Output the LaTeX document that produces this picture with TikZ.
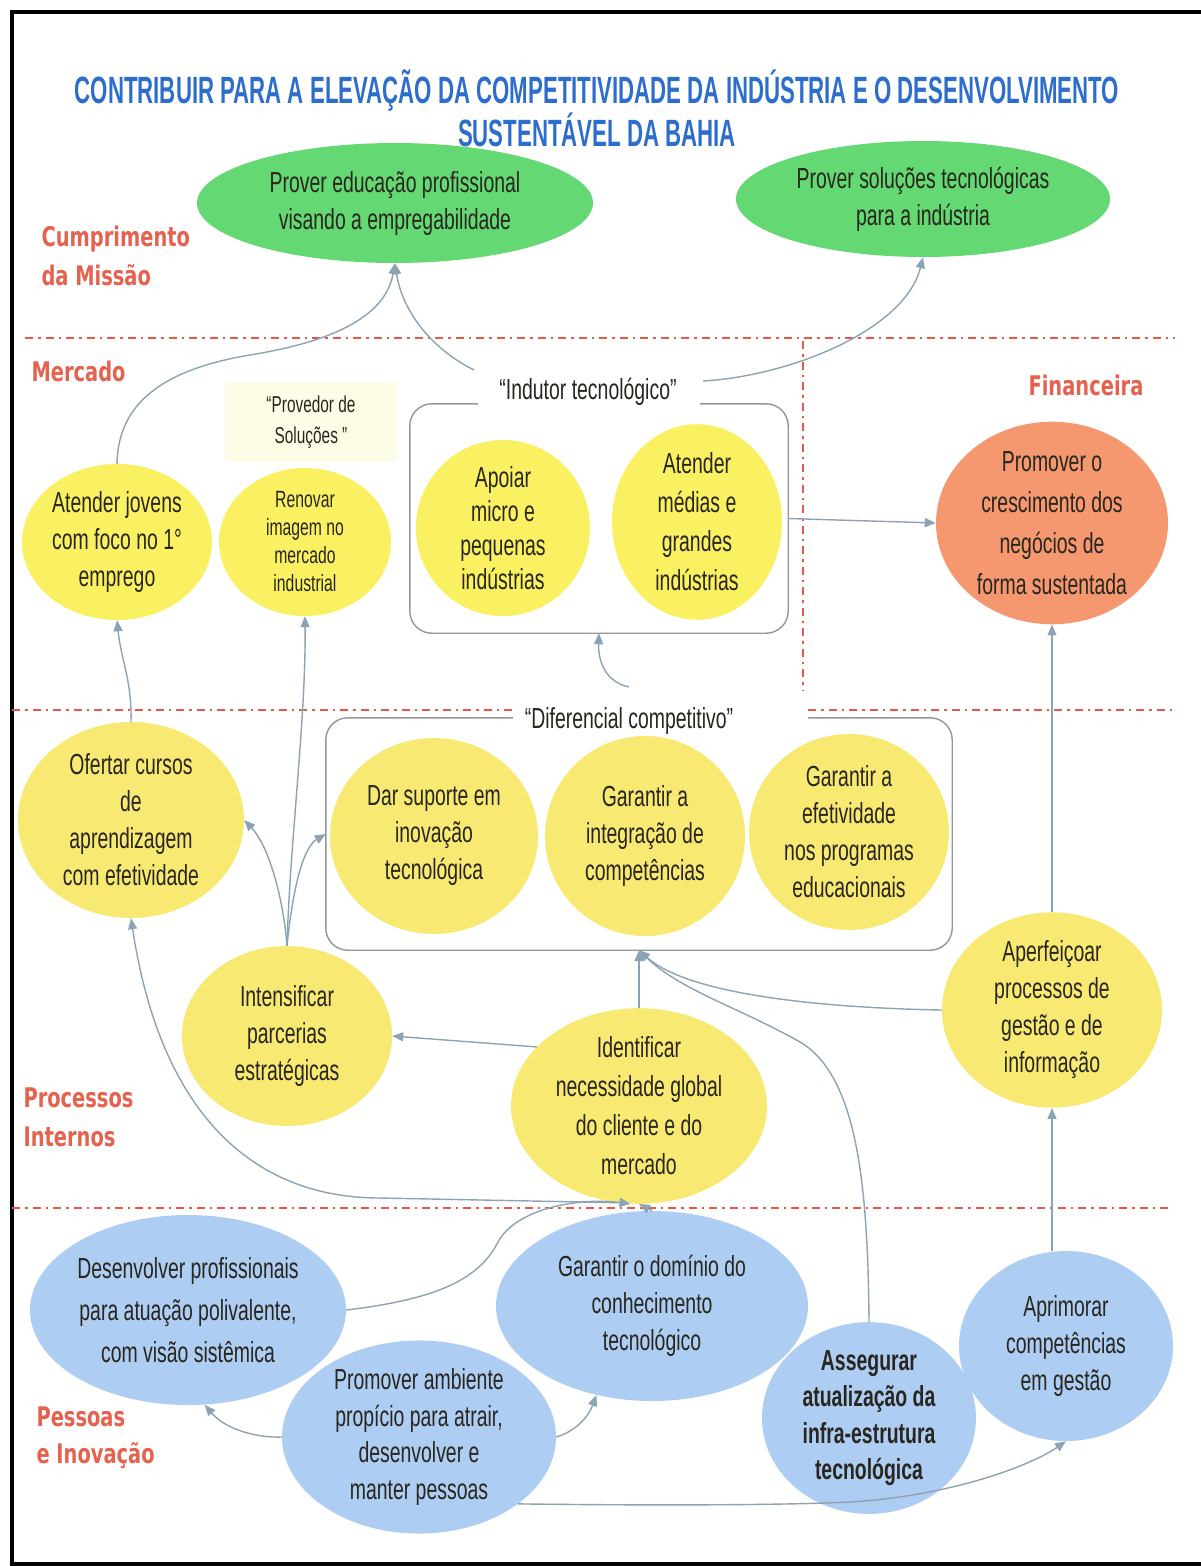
\documentclass[tikz,border=0pt]{standalone}
\usepackage{fontspec}
\setmainfont[FakeStretch=0.67]{Liberation Sans}
\newfontfamily\titlefont[FakeStretch=0.585]{Liberation Sans}
\newfontfamily\seclabfont[FakeStretch=0.72]{DejaVu Sans}
\usetikzlibrary{shapes.geometric,arrows.meta}

\definecolor{mgreen}{RGB}{100,216,114}
\definecolor{yelA}{RGB}{250,241,98}
\definecolor{yelB}{RGB}{248,233,115}
\definecolor{salmon}{RGB}{245,152,112}
\definecolor{lblue}{RGB}{174,205,242}
\definecolor{provbg}{RGB}{253,252,230}
\definecolor{redl}{RGB}{232,88,72}
\definecolor{titleblue}{RGB}{45,110,205}
\definecolor{seclab}{RGB}{228,98,78}
\definecolor{connc}{RGB}{140,163,182}
\definecolor{boxgray}{RGB}{150,150,150}
\definecolor{txt}{RGB}{40,38,30}

\newcommand\ellfont{\fontsize{29}{37}\selectfont}

\begin{document}
\begin{tikzpicture}[x=1pt,y=-1pt,
  obj/.style={ellipse, inner sep=0pt, align=center, text=txt, font=\ellfont},
  goal/.style={obj, fill=mgreen},
  yA/.style={obj, fill=yelA},
  yB/.style={obj, fill=yelB},
  fin/.style={obj, fill=salmon},
  pin/.style={obj, fill=lblue},
  seclabel/.style={anchor=west, align=left, text=seclab,
    font=\seclabfont\bfseries\fontsize{27}{39}\selectfont},
  divider/.style={draw=redl, line width=2.6pt,
    dash pattern=on 8pt off 5pt on 2.5pt off 5pt},
  boxline/.style={draw=boxgray, line width=1.4pt, rounded corners=22pt},
  arrowline/.style={draw=connc, line width=1.4pt,
    -{Triangle[length=11pt,width=9pt]}}
]
\useasboundingbox[fill=white] (0,0) rectangle (1201,1566);

% frame
\draw[line width=4.5pt] (1201,12) -- (12,12) -- (12,1564) -- (1201,1564);

% title
\node[font=\titlefont\bfseries\fontsize{38}{43}\selectfont, text=titleblue, align=center]
  (title) at (597,108)
  {CONTRIBUIR PARA A ELEVAÇÃO DA COMPETITIVIDADE DA INDÚSTRIA E O DESENVOLVIMENTO\\SUSTENTÁVEL DA BAHIA};

% perspective dividers
\draw[divider] (25,338) -- (1175,338);
\draw[divider] (12,710) -- (512,710);
\draw[divider] (808,710) -- (1172,710);
\draw[divider] (12,1208) -- (1172,1208);
\draw[divider, line width=1.6pt] (803,341) -- (803,690);

% perspective names
\node[seclabel] (lmis) at (38,256) {Cumprimento\\da Missão};
\node[seclabel] (lmer) at (28,371) {Mercado};
\node[seclabel] (lfin) at (1025,385) {Financeira};
\node[seclabel] (lpro) at (20,1117) {Processos\\Internos};
\node[seclabel, font=\seclabfont\bfseries\fontsize{27}{37}\selectfont] (lpes) at (33,1438) {Pessoas\\e Inovação};

% mission
\node[goal, minimum width=396, minimum height=120] (m1) at (395,203)
  {Prover educação profissional\\visando a empregabilidade};
\node[goal, minimum width=374, minimum height=116] (m2) at (923,199)
  {Prover soluções tecnológicas\\para a indústria};

% market
\node[fill=provbg, minimum width=172, minimum height=80, align=center, text=txt,
  font=\fontsize{23}{31}\selectfont] (prov) at (311,422) {“Provedor de\\Soluções ”};
\node[yA, minimum width=190, minimum height=156] (jov) at (117,542)
  {Atender jovens\\com foco no 1°\\emprego};
\node[yA, minimum width=172, minimum height=148, font=\fontsize{23.5}{28}\selectfont] (ren) at (305,542)
  {Renovar\\imagem no\\mercado\\industrial};

\node[minimum width=378, minimum height=229, inner sep=0pt] (indbox) at (599,518.5) {};
\draw[boxline] ([xshift=68pt]indbox.north west) -- (indbox.north west) -- (indbox.south west)
  -- (indbox.south east) -- (indbox.north east) -- ([xshift=-88pt]indbox.north east);
\node[text=txt, font=\ellfont] (indlab) at (588,392) {“Indutor tecnológico”};
\node[yA, minimum width=174, minimum height=176, font=\fontsize{29}{34}\selectfont] (apo) at (503,528)
  {Apoiar\\micro e\\pequenas\\indústrias};
\node[yA, minimum width=170, minimum height=184, font=\fontsize{29}{39}\selectfont] (med) at (697,522)
  {Atender\\médias e\\grandes\\indústrias};

% financial
\node[fin, minimum width=232, minimum height=190, font=\fontsize{29}{41}\selectfont] (fin) at (1052,523)
  {Promover o\\crescimento dos\\negócios de\\forma sustentada};

% internal processes
\node[minimum width=626, minimum height=232, inner sep=0pt] (difbox) at (639,834) {};
\draw[boxline] ([xshift=187pt]difbox.north west) -- (difbox.north west) -- (difbox.south west)
  -- (difbox.south east) -- (difbox.north east) -- ([xshift=-144pt]difbox.north east);
\node[text=txt, font=\ellfont] (diflab) at (629,721) {“Diferencial competitivo”};

\node[yB, minimum width=226, minimum height=196] (ofe) at (131,820)
  {Ofertar cursos\\de\\aprendizagem\\com efetividade};
\node[yB, minimum width=208, minimum height=196] (dar) at (434,836)
  {Dar suporte em\\inovação\\tecnológica};
\node[yB, minimum width=200, minimum height=200] (gic) at (645,836)
  {Garantir a\\integração de\\competências};
\node[yB, minimum width=200, minimum height=196] (gep) at (849,832)
  {Garantir a\\efetividade\\nos programas\\educacionais};
\node[yB, minimum width=210, minimum height=180] (int) at (287,1036)
  {Intensificar\\parcerias\\estratégicas};
\node[yB, minimum width=256, minimum height=188, font=\fontsize{29}{39}\selectfont] (idn) at (639,1106)
  {Identificar\\necessidade global\\do cliente e do\\mercado};
\node[yB, minimum width=220, minimum height=192] (ape) at (1052,1010)
  {Aperfeiçoar\\processos de\\gestão e de\\informação};

% people and innovation
\node[pin, minimum width=316, minimum height=190, font=\fontsize{29}{42}\selectfont] (des) at (188,1310)
  {Desenvolver profissionais\\para atuação polivalente,\\com visão sistêmica};
\node[pin, minimum width=312, minimum height=190] (gdc) at (652,1306)
  {Garantir o domínio do\\conhecimento\\tecnológico};
\node[pin, minimum width=214, minimum height=190] (apr) at (1066,1346)
  {Aprimorar\\competências\\em gestão};
\node[pin, minimum width=214, minimum height=176, font=\bfseries\fontsize{29}{36.5}\selectfont] (ass) at (869,1418)
  {Assegurar\\atualização da\\infra-estrutura\\tecnológica};
\node[pin, minimum width=274, minimum height=160, font=\fontsize{29}{36.5}\selectfont] (pam) at (419,1437)
  {Promover ambiente\\propício para atrair,\\desenvolver e\\manter pessoas};

% loose ends of connectors
\coordinate (indL) at (474,370);
\coordinate (indR) at (703,381);
\coordinate (difS) at (629,687);
\coordinate (tipD) at (idn.north |- difbox.south);

% cause-effect links
\draw[arrowline] (jov.north) .. controls (118,405) and (160,370) .. (250,355)
  .. controls (330,342) and (385,318) .. (m1.south);
\draw[arrowline] (indL) .. controls (430,348) and (402,310) .. (m1.south);
\draw[arrowline] (indR) .. controls (790,376) and (905,330) .. (m2.south);
\draw[arrowline] (indbox.east) -- (fin.west);
\draw[arrowline] (ofe.north) .. controls (132,680) and (121,660) .. (jov.south);
\draw[arrowline] (int.north) .. controls (290,840) and (306,720) .. (ren.south);
\draw[arrowline] (int.north) .. controls (283,895) and (268,845) .. (ofe.east);
\draw[arrowline] (int.north) .. controls (292,895) and (302,848) .. (difbox.west);
\draw[arrowline] (idn.150) -- (int.east);
\draw[arrowline] (idn.north) -- (tipD);
\draw[arrowline] (ape.west) .. controls (830,1008) and (690,996) .. (tipD);
\draw[arrowline] (ass.north) .. controls (868,1180) and (856,1075) .. (800,1042)
  .. controls (740,1008) and (680,990) .. (tipD);
\draw[arrowline] (difS) .. controls (606,682) and (598,662) .. (indbox.south);
\draw[arrowline] (ape.north) -- (fin.south);
\draw[arrowline] (ape.south |- apr.north) -- (ape.south);
\draw[arrowline] (des.east) .. controls (430,1300) and (478,1282) .. (498,1242)
  .. controls (515,1210) and (575,1197) .. (idn.265);
\draw[arrowline] (idn.258) -- (380,1198) .. controls (250,1198) and (160,1110) .. (ofe.south);
\draw[arrowline] (gdc.north) -- (idn.south);
\draw[arrowline] (pam.west) .. controls (258,1438) and (226,1430) .. (des.280);
\draw[arrowline] (pam.east) .. controls (574,1432) and (588,1418) .. (gdc.238);
\draw[arrowline] (pam.-34) .. controls (600,1505) and (770,1506) .. (850,1502)
  .. controls (950,1496) and (1030,1466) .. (apr.south);
\end{tikzpicture}
\end{document}
